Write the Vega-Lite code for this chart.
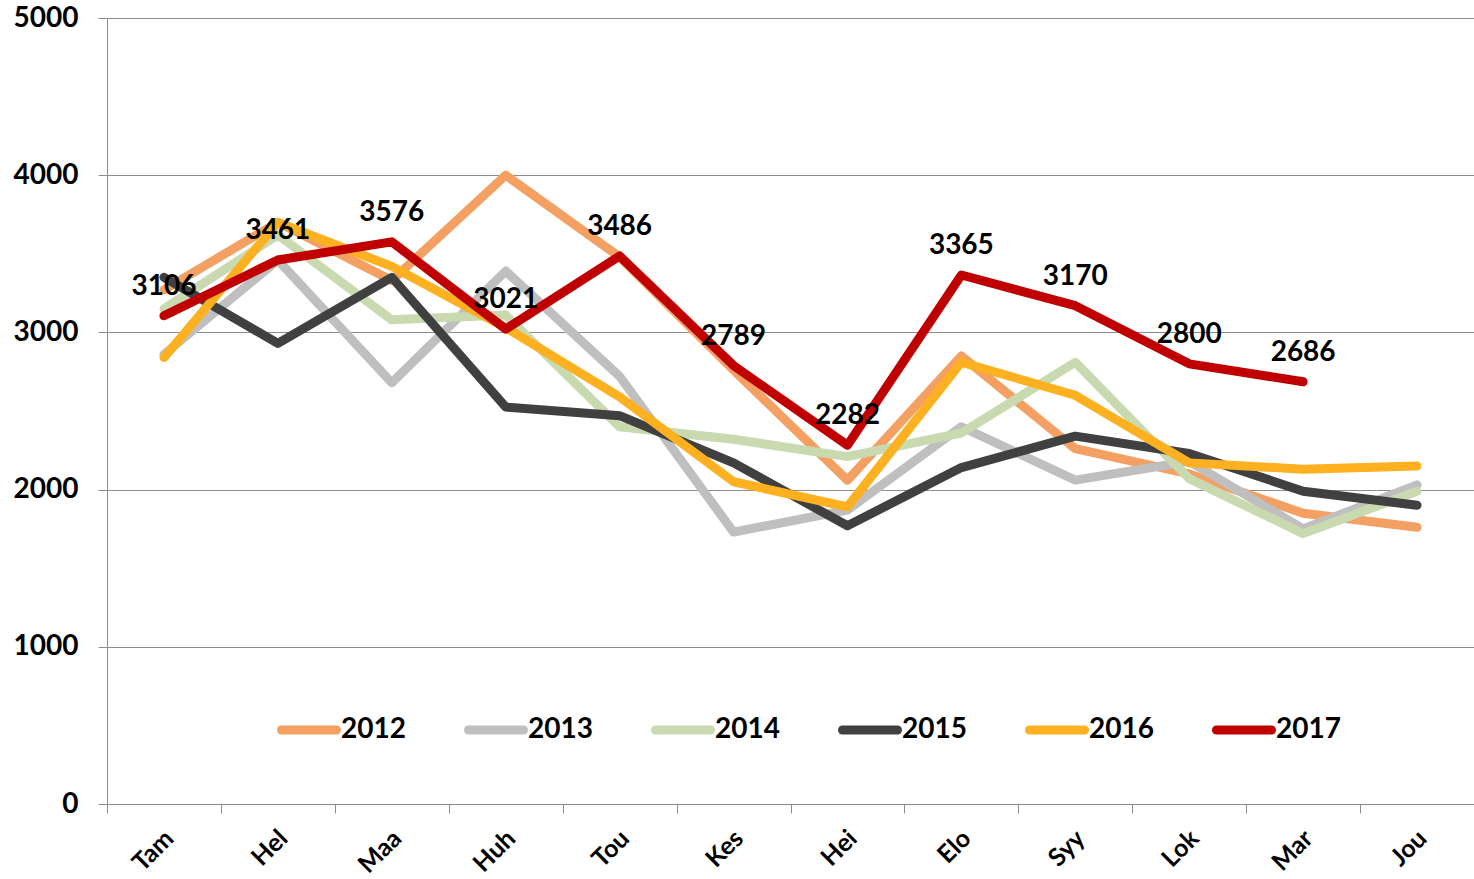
{
  "$schema": "https://vega.github.io/schema/vega-lite/v6.json",
  "width": 1367,
  "height": 786,
  "autosize": {"type": "none"},
  "padding": {"left": 107, "top": 18, "right": 0, "bottom": 75},
  "background": "white",
  "config": {
    "view": {"stroke": null},
    "font": "Lato"
  },
  "data": {
    "values": [
      {"month": "Tam", "year": "2012", "value": 3270},
      {"month": "Hel", "year": "2012", "value": 3700},
      {"month": "Maa", "year": "2012", "value": 3330},
      {"month": "Huh", "year": "2012", "value": 4000},
      {"month": "Tou", "year": "2012", "value": 3480},
      {"month": "Kes", "year": "2012", "value": 2760},
      {"month": "Hei", "year": "2012", "value": 2060},
      {"month": "Elo", "year": "2012", "value": 2850},
      {"month": "Syy", "year": "2012", "value": 2260},
      {"month": "Lok", "year": "2012", "value": 2100},
      {"month": "Mar", "year": "2012", "value": 1850},
      {"month": "Jou", "year": "2012", "value": 1760},
      {"month": "Tam", "year": "2013", "value": 2860},
      {"month": "Hel", "year": "2013", "value": 3460},
      {"month": "Maa", "year": "2013", "value": 2680},
      {"month": "Huh", "year": "2013", "value": 3390},
      {"month": "Tou", "year": "2013", "value": 2720},
      {"month": "Kes", "year": "2013", "value": 1730},
      {"month": "Hei", "year": "2013", "value": 1870},
      {"month": "Elo", "year": "2013", "value": 2400},
      {"month": "Syy", "year": "2013", "value": 2060},
      {"month": "Lok", "year": "2013", "value": 2180},
      {"month": "Mar", "year": "2013", "value": 1750},
      {"month": "Jou", "year": "2013", "value": 2030},
      {"month": "Tam", "year": "2014", "value": 3150},
      {"month": "Hel", "year": "2014", "value": 3620},
      {"month": "Maa", "year": "2014", "value": 3080},
      {"month": "Huh", "year": "2014", "value": 3110},
      {"month": "Tou", "year": "2014", "value": 2400},
      {"month": "Kes", "year": "2014", "value": 2320},
      {"month": "Hei", "year": "2014", "value": 2210},
      {"month": "Elo", "year": "2014", "value": 2360},
      {"month": "Syy", "year": "2014", "value": 2810},
      {"month": "Lok", "year": "2014", "value": 2070},
      {"month": "Mar", "year": "2014", "value": 1720},
      {"month": "Jou", "year": "2014", "value": 1990},
      {"month": "Tam", "year": "2015", "value": 3350},
      {"month": "Hel", "year": "2015", "value": 2930},
      {"month": "Maa", "year": "2015", "value": 3350},
      {"month": "Huh", "year": "2015", "value": 2525},
      {"month": "Tou", "year": "2015", "value": 2470},
      {"month": "Kes", "year": "2015", "value": 2170},
      {"month": "Hei", "year": "2015", "value": 1770},
      {"month": "Elo", "year": "2015", "value": 2140},
      {"month": "Syy", "year": "2015", "value": 2340},
      {"month": "Lok", "year": "2015", "value": 2230},
      {"month": "Mar", "year": "2015", "value": 1990},
      {"month": "Jou", "year": "2015", "value": 1900},
      {"month": "Tam", "year": "2016", "value": 2840},
      {"month": "Hel", "year": "2016", "value": 3700},
      {"month": "Maa", "year": "2016", "value": 3420},
      {"month": "Huh", "year": "2016", "value": 3030},
      {"month": "Tou", "year": "2016", "value": 2590},
      {"month": "Kes", "year": "2016", "value": 2050},
      {"month": "Hei", "year": "2016", "value": 1890},
      {"month": "Elo", "year": "2016", "value": 2810},
      {"month": "Syy", "year": "2016", "value": 2600},
      {"month": "Lok", "year": "2016", "value": 2170},
      {"month": "Mar", "year": "2016", "value": 2130},
      {"month": "Jou", "year": "2016", "value": 2150},
      {"month": "Tam", "year": "2017", "value": 3106},
      {"month": "Hel", "year": "2017", "value": 3461},
      {"month": "Maa", "year": "2017", "value": 3576},
      {"month": "Huh", "year": "2017", "value": 3021},
      {"month": "Tou", "year": "2017", "value": 3486},
      {"month": "Kes", "year": "2017", "value": 2789},
      {"month": "Hei", "year": "2017", "value": 2282},
      {"month": "Elo", "year": "2017", "value": 3365},
      {"month": "Syy", "year": "2017", "value": 3170},
      {"month": "Lok", "year": "2017", "value": 2800},
      {"month": "Mar", "year": "2017", "value": 2686}
    ]
  },
  "encoding": {
    "x": {
      "field": "month",
      "type": "ordinal",
      "sort": ["Tam", "Hel", "Maa", "Huh", "Tou", "Kes", "Hei", "Elo", "Syy", "Lok", "Mar", "Jou"],
      "bandPosition": 0.5,
      "scale": {"type": "band", "paddingInner": 0, "paddingOuter": 0},
      "axis": {
        "title": null,
        "grid": false,
        "tickBand": "extent",
        "domainColor": "#8c8c8c",
        "tickColor": "#8c8c8c",
        "tickSize": 9,
        "labelAngle": -45,
        "labelAlign": "right",
        "labelBaseline": "middle",
        "labelPadding": 21,
        "labelOffset": 5,
        "labelFont": "Lato",
        "labelFontWeight": "bold",
        "labelFontSize": 25,
        "labelColor": "black"
      }
    },
    "y": {
      "field": "value",
      "type": "quantitative",
      "scale": {"domain": [0, 5000], "nice": false, "zero": true},
      "axis": {
        "title": null,
        "values": [0, 1000, 2000, 3000, 4000, 5000],
        "format": "d",
        "grid": true,
        "gridColor": "#8c8c8c",
        "gridWidth": 1,
        "domainColor": "#8c8c8c",
        "tickColor": "#8c8c8c",
        "tickSize": 9,
        "labelPadding": 20,
        "labelFont": "Lato",
        "labelFontWeight": "bold",
        "labelFontSize": 28,
        "labelColor": "black"
      }
    }
  },
  "layer": [
    {
      "mark": {"type": "line", "strokeCap": "round", "strokeJoin": "round"},
      "encoding": {
        "color": {
          "field": "year",
          "type": "nominal",
          "scale": {
            "domain": ["2012", "2013", "2014", "2015", "2016", "2017"],
            "range": ["#F4A062", "#BFBFBF", "#C9D9B0", "#404040", "#FDB120", "#C00000"]
          },
          "legend": {
            "title": null,
            "orient": "none",
            "legendX": 170,
            "legendY": 680,
            "direction": "horizontal",
            "symbolType": "stroke",
            "symbolSize": 3025,
            "symbolStrokeWidth": 10,
            "labelFont": "Lato",
            "labelFontWeight": "bold",
            "labelFontSize": 28,
            "labelColor": "black",
            "labelOffset": 0,
            "columnPadding": 44,
            "padding": 0,
            "encode": {
              "symbols": {"update": {"strokeCap": {"value": "round"}}}
            }
          }
        },
        "strokeWidth": {
          "field": "year",
          "type": "nominal",
          "scale": {
            "domain": ["2012", "2013", "2014", "2015", "2016", "2017"],
            "range": [9, 9, 9, 9, 9, 14]
          },
          "legend": null
        }
      }
    },
    {
      "transform": [{"filter": "datum.year === '2017'"}],
      "mark": {
        "type": "text",
        "font": "Lato",
        "fontWeight": "bold",
        "fontSize": 28,
        "color": "black",
        "dy": -29,
        "align": "center",
        "baseline": "middle"
      },
      "encoding": {
        "text": {"field": "value", "type": "quantitative", "format": "d"}
      }
    }
  ]
}
